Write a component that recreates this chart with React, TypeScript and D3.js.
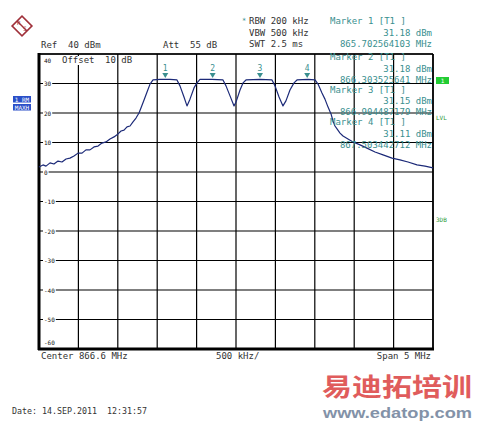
import React from "react";
import * as d3 from "d3";

// ---- data ----
const freqMHz = [
  864.1, 864.151, 864.189, 864.24, 864.29, 864.341, 864.392, 864.443, 864.493, 864.544,
  864.595, 864.646, 864.696, 864.747, 864.798, 864.849, 864.899, 864.95, 865.001, 865.052,
  865.103, 865.141, 865.179, 865.217, 865.255, 865.293, 865.331, 865.369, 865.394, 865.433,
  865.471, 865.509, 865.547, 865.636, 865.762, 865.851, 865.889, 865.94, 865.978, 866.016,
  866.067, 866.105, 866.143, 866.295, 866.435, 866.473, 866.524, 866.575, 866.6, 866.651,
  866.689, 866.727, 866.905, 867.057, 867.095, 867.146, 867.196, 867.234, 867.285, 867.336,
  867.374, 867.514, 867.603, 867.641, 867.691, 867.729, 867.768, 867.806, 867.831, 867.856,
  867.882, 867.92, 867.958, 868.021, 868.085, 868.174, 868.262, 868.364, 868.466, 868.58,
  868.681, 868.783, 868.897, 868.999, 869.1,
];
const levelDbm = [
  1.7, 2.4, 2.0, 3.1, 2.7, 3.7, 3.4, 4.4, 4.7, 5.4,
  6.4, 6.4, 7.5, 7.5, 8.5, 8.8, 9.8, 10.2, 11.2, 11.9,
  12.9, 13.9, 14.2, 15.3, 15.6, 17.0, 18.3, 20.0, 21.7, 24.4,
  27.1, 29.8, 31.2, 31.4, 31.4, 31.2, 29.2, 25.4, 22.4, 24.7,
  28.5, 30.2, 31.4, 31.4, 31.2, 29.2, 25.8, 22.4, 23.7, 27.8,
  30.2, 31.2, 31.4, 31.2, 29.2, 25.4, 22.4, 24.1, 27.8, 30.2,
  31.2, 31.4, 31.2, 29.8, 26.8, 24.7, 22.0, 19.7, 17.3, 15.6,
  14.6, 13.2, 12.2, 11.2, 10.2, 9.2, 8.1, 6.8, 5.8, 4.7,
  4.1, 3.4, 2.4, 2.0, 1.4,
];

const markerNames = ["1", "2", "3", "4"];
const markerFreqs = [865.702564103, 866.303525641, 866.904487179, 867.503442712];
const markerLevels = ["31.18 dBm", "31.18 dBm", "31.15 dBm", "31.11 dBm"];
const markerFreqLabels = ["865.702564103 MHz", "866.303525641 MHz", "866.904487179 MHz", "867.503442712 MHz"];

const yTicks = [40, 30, 20, 10, 0, -10, -20, -30, -40, -50, -60];
const xGrid = d3.range(0, 11).map((i) => 864.1 + i * 0.5);

const headerLeft = ["Ref  40 dBm", "Att  55 dB"];
const headerSettings = ["RBW 200 kHz", "VBW 500 kHz", "SWT 2.5 ms"];
const footer = ["Center 866.6 MHz", "500 kHz/", "Span 5 MHz"];
const dateText = "Date: 14.SEP.2011  12:31:57";

const W = 478, H = 422;
const MONO = "'DejaVu Sans Mono', 'Liberation Mono', monospace";
const TEAL = "#3a8f8f";
const TRACE = "#1c2a78";
const INK = "#333";

export default function App() {
  const x = d3.scaleLinear().domain([864.1, 869.1]).range([39, 433]);
  const y = d3.scaleLinear().domain([-60, 40]).range([349, 54]);
  const pts: [number, number][] = freqMHz.map((f, i) => [f, levelDbm[i]]);
  const line = d3
    .line<[number, number]>()
    .x((d) => x(d[0]))
    .y((d) => y(d[1]));

  const labelY = (v: number) => (v === 40 ? y(v) + 6 : v === -60 ? y(v) - 7 : y(v));
  const pre = { whiteSpace: "pre" } as React.CSSProperties;

  return (
    <svg
      width={W}
      height={H}
      viewBox={`0 0 ${W} ${H}`}
      style={{ position: "absolute", left: 0, top: 0, background: "#fff" }}
      fontFamily={MONO}
    >
      <rect x={0} y={0} width={W} height={H} fill="#fff" />

      {/* R&S logo */}
      <g transform="translate(22,26) rotate(45)">
        <rect x={-7} y={-7} width={14} height={14} fill="none" stroke="#a0303a" strokeWidth={1.6} />
        <line x1={-7} y1={0} x2={7} y2={0} stroke="#a0303a" strokeWidth={1.4} />
      </g>
      <text x={17} y={25} fontSize={6} fill="#a0303a">R</text>
      <text x={23} y={31} fontSize={6} fill="#a0303a">S</text>

      {/* header */}
      <text x={41} y={48} fontSize={9} fill={INK} style={pre}>{headerLeft[0]}</text>
      <text x={163} y={48} fontSize={9} fill={INK} style={pre}>{headerLeft[1]}</text>
      <text x={242} y={23} fontSize={7} fill={TEAL}>*</text>
      {headerSettings.map((t, i) => (
        <text key={t} x={249} y={24 + i * 11.5} fontSize={9} fill={INK}>{t}</text>
      ))}

      {/* grid */}
      {xGrid.map((f, i) => (
        <line key={"vx" + i} x1={x(f)} x2={x(f)} y1={54} y2={349} stroke="#000" strokeWidth={1.2} />
      ))}
      {yTicks.map((v) => (
        <line key={"hy" + v} x1={39} x2={433} y1={y(v)} y2={y(v)} stroke="#000" strokeWidth={1.2} />
      ))}
      {/* frame */}
      <line x1={39} x2={39} y1={53} y2={350} stroke="#000" strokeWidth={3} />
      <line x1={38} x2={434} y1={349} y2={349} stroke="#000" strokeWidth={3} />
      <line x1={39} x2={433} y1={54} y2={54} stroke="#000" strokeWidth={1.6} />
      <line x1={433} x2={433} y1={54} y2={349} stroke="#000" strokeWidth={1.6} />

      {/* y labels */}
      {yTicks.map((v) => {
        const ly = labelY(v);
        const s = String(v);
        return (
          <g key={"yl" + v}>
            <rect x={43} y={ly - 4} width={s.length * 3.6 + 2} height={8} fill="#fff" />
            <text x={44} y={ly + 2.5} fontSize={6} fill="#111">{s}</text>
          </g>
        );
      })}

      {/* offset */}
      <rect x={60} y={56} width={50} height={9} fill="#fff" />
      <text x={62} y={63} fontSize={9} fill={INK}>Offset</text>
      <text x={105} y={63} fontSize={9} fill={INK}>10 dB</text>

      {/* trace */}
      <path d={line(pts) || ""} fill="none" stroke={TRACE} strokeWidth={1.2} strokeLinejoin="round" />

      {/* markers */}
      {markerFreqs.map((f, i) => {
        const mx = x(f);
        return (
          <g key={"m" + i}>
            <text x={mx} y={71} fontSize={8} fill={TEAL} textAnchor="middle">{markerNames[i]}</text>
            <path d={`M${mx - 3},${73} L${mx + 3},${73} L${mx},${78} Z`} fill={TEAL} />
          </g>
        );
      })}

      {/* marker info */}
      {markerFreqs.map((f, i) => {
        const base = i === 0 ? 24 : 60 + (i - 1) * 32.5;
        return (
          <g key={"mi" + i} fill={TEAL} fontSize={9}>
            <text x={330} y={base}>{`Marker ${markerNames[i]} [T1 ]`}</text>
            <text x={432} y={base + 11.5} textAnchor="end">{markerLevels[i]}</text>
            <text x={432} y={base + 22.5} textAnchor="end">{markerFreqLabels[i]}</text>
          </g>
        );
      })}

      {/* right side indicators */}
      <rect x={436} y={77} width={13} height={7} fill="#22cc33" />
      <text x={442.5} y={83} fontSize={6} fill="#fff" textAnchor="middle">1</text>
      <text x={436} y={120} fontSize={6} fill="#2e9a3a">LVL</text>
      <text x={436} y={222} fontSize={6} fill="#2e9a3a">3DB</text>

      {/* left side indicators */}
      <rect x={13} y={96} width={18} height={6.5} fill="#2a4fc8" />
      <text x={22} y={101.5} fontSize={6} fill="#fff" textAnchor="middle">1 RM</text>
      <rect x={13} y={104} width={18} height={6.5} fill="#2a4fc8" />
      <text x={22} y={109.5} fontSize={6} fill="#fff" textAnchor="middle">MAXH</text>

      {/* footer */}
      <text x={41} y={359} fontSize={9} fill={INK}>{footer[0]}</text>
      <text x={216} y={359} fontSize={9} fill={INK}>{footer[1]}</text>
      <text x={431} y={359} fontSize={9} fill={INK} textAnchor="end">{footer[2]}</text>
      <text x={12} y={414} fontSize={9} fill={INK} style={pre} textLength={135} lengthAdjust="spacingAndGlyphs">{dateText}</text>

      {/* watermark */}
      <text x={322} y={396} fontSize={25} fontWeight="bold" fill="#e05c5c"
        fontFamily="'Noto Sans CJK SC', sans-serif" textLength={150} lengthAdjust="spacingAndGlyphs">易迪拓培训</text>
      <text x={323} y={418} fontSize={15} fontWeight="bold" fill="#8392a8"
        fontFamily="'Liberation Sans', Arial, sans-serif" textLength={149} lengthAdjust="spacingAndGlyphs">www.edatop.com</text>
    </svg>
  );
}
